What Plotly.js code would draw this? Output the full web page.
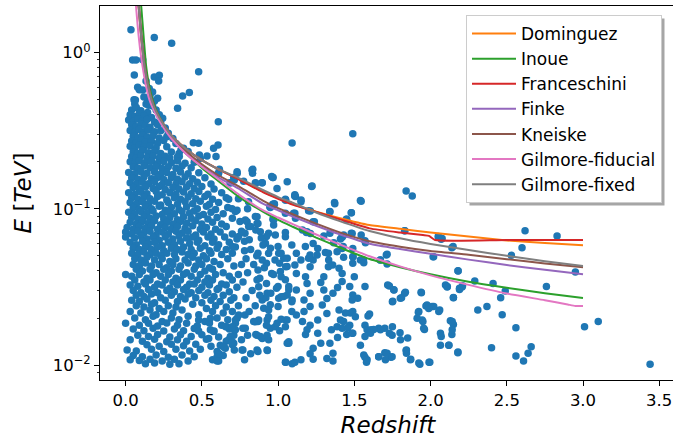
<!DOCTYPE html>
<html><head><meta charset="utf-8">
<script src="https://cdn.plot.ly/plotly-3.0.1.min.js"></script>
<style>html,body{margin:0;padding:0;overflow:hidden;background:#fff;width:673px;height:441px}#chart{width:690px;height:441px}</style>
</head><body><div id="chart"></div>
<script>
// ---- Sources: [redshift, E (TeV)] ----
const sourcesTop = [
[0.035,1.40],[0.188,1.25],[0.302,1.15],[0.046,0.898],[0.068,0.898],[0.112,0.90],[0.479,0.756],[0.057,0.72],[0.188,0.70],[0.221,0.717],
[0.134,0.659],[0.217,0.659],[0.079,0.60],[0.112,0.577],[0.155,0.59],[0.177,0.56],[0.418,0.555],[0.374,0.528],[0.064,0.498],[0.144,0.498],
[0.21,0.51],[0.134,0.47],[0.12,0.52],[0.16,0.53],[0.19,0.49],[0.055,0.50],[0.06,0.47],[0.09,0.58],[0.15,0.46],[0.177,0.456],[0.2,0.43],
[0.144,0.414],[0.341,0.44],[0.221,0.40],[0.243,0.38],[0.608,0.361],[0.577,0.244],[0.606,0.256],[1.092,0.264],[1.49,0.303],
[0.479,0.263],[0.534,0.218],[0.593,0.216],[0.49,0.211],[0.444,0.265],[0.363,0.238],[0.352,0.216],[0.484,0.221]
];
const sourcesLowZ = [
[0.04,0.43],[0.07,0.445],[0.10,0.425],[0.03,0.40],[0.06,0.39],[0.09,0.41],[0.12,0.395],[0.17,0.385],
[0.02,0.37],[0.05,0.362],[0.08,0.378],[0.11,0.366],[0.14,0.374],[0.19,0.36],[0.23,0.356],
[0.04,0.345],[0.07,0.336],[0.10,0.35],[0.13,0.34],[0.16,0.333],[0.21,0.346],[0.26,0.33],
[0.03,0.318],[0.06,0.31],[0.09,0.322],[0.12,0.308],[0.15,0.32],[0.19,0.312],[0.23,0.316],[0.28,0.305],
[0.05,0.292],[0.08,0.285],[0.11,0.296],[0.14,0.288],[0.18,0.294],[0.22,0.284],[0.27,0.29],[0.31,0.282],
[0.04,0.272],[0.07,0.265],[0.10,0.276],[0.13,0.268],[0.17,0.27],[0.21,0.263],[0.25,0.274],[0.33,0.262],
[0.03,0.252],[0.06,0.246],[0.09,0.256],[0.12,0.248],[0.16,0.254],[0.20,0.245],[0.27,0.25],[0.38,0.244],
[0.05,0.232],[0.08,0.227],[0.11,0.236],[0.15,0.229],[0.19,0.234],[0.23,0.226],[0.30,0.231],[0.35,0.226],[0.41,0.233],
[0.04,0.216],[0.07,0.212],[0.10,0.219],[0.14,0.213],[0.18,0.218],[0.22,0.211],[0.26,0.217],[0.29,0.212],[0.34,0.215],
[0.03,0.20],[0.06,0.196],[0.09,0.203],[0.13,0.198],[0.17,0.202],[0.21,0.195],[0.25,0.201],[0.30,0.197],[0.34,0.203],[0.39,0.196],[0.45,0.199],
[0.05,0.186],[0.08,0.182],[0.12,0.188],[0.16,0.183],[0.20,0.187],[0.24,0.181],[0.28,0.186],[0.33,0.182],[0.37,0.188],[0.43,0.183],
[0.02,0.171],[0.06,0.168],[0.10,0.173],[0.14,0.169],[0.19,0.172],[0.23,0.167],[0.27,0.171],[0.31,0.166],[0.36,0.172],[0.41,0.168],[0.48,0.17],[0.61,0.169],
[0.04,0.158],[0.08,0.155],[0.12,0.16],[0.17,0.156],[0.21,0.159],[0.25,0.154],[0.30,0.158],[0.34,0.155],[0.39,0.16],[0.44,0.156],[0.52,0.158],
[0.03,0.147],[0.07,0.144],[0.11,0.148],[0.15,0.145],[0.19,0.149],[0.24,0.143],[0.28,0.147],[0.33,0.144],[0.37,0.149],[0.42,0.145],[0.47,0.148],[0.56,0.144],[0.69,0.147],
[0.05,0.137],[0.09,0.134],[0.13,0.138],[0.18,0.135],[0.22,0.139],[0.26,0.133],[0.31,0.137],[0.35,0.134],[0.40,0.138],[0.45,0.135],[0.50,0.139],[0.58,0.134],
[0.02,0.127],[0.06,0.124],[0.10,0.128],[0.14,0.125],[0.20,0.129],[0.24,0.123],[0.29,0.127],[0.33,0.124],[0.38,0.128],[0.43,0.125],[0.48,0.129],[0.54,0.124],[0.63,0.127],
[0.04,0.118],[0.08,0.115],[0.12,0.119],[0.16,0.116],[0.21,0.12],[0.27,0.114],[0.32,0.118],[0.36,0.115],[0.41,0.119],[0.46,0.116],[0.52,0.12],[0.57,0.115],[0.66,0.118],[0.74,0.116],
[0.03,0.110],[0.07,0.107],[0.11,0.111],[0.15,0.108],[0.19,0.112],[0.23,0.106],[0.28,0.11],[0.34,0.107],[0.39,0.111],[0.44,0.108],[0.49,0.112],[0.55,0.107],[0.61,0.11],
[0.05,0.102],[0.09,0.099],[0.13,0.103],[0.17,0.1],[0.22,0.104],[0.26,0.098],[0.30,0.102],[0.35,0.099],[0.40,0.103],[0.47,0.1],[0.53,0.104],[0.59,0.099],[0.67,0.102],[0.80,0.1],
[0.02,0.095],[0.06,0.093],[0.10,0.096],[0.14,0.094],[0.18,0.097],[0.24,0.092],[0.28,0.095],[0.32,0.093],[0.37,0.096],[0.42,0.094],[0.45,0.097],[0.51,0.092],[0.56,0.095],[0.64,0.093],[0.72,0.096],
[0.04,0.088],[0.08,0.086],[0.12,0.089],[0.16,0.087],[0.20,0.09],[0.25,0.086],[0.29,0.088],[0.34,0.085],[0.38,0.089],[0.43,0.087],[0.48,0.09],[0.54,0.086],[0.60,0.088],[0.70,0.087],
[0.03,0.082],[0.07,0.08],[0.11,0.083],[0.15,0.081],[0.19,0.084],[0.23,0.079],[0.27,0.082],[0.31,0.08],[0.36,0.083],[0.40,0.081],[0.46,0.084],[0.50,0.08],[0.57,0.082],[0.63,0.08],[0.75,0.083],
[0.01,0.076],[0.05,0.074],[0.09,0.077],[0.13,0.075],[0.17,0.078],[0.21,0.074],[0.26,0.076],[0.30,0.074],[0.34,0.077],[0.39,0.075],[0.44,0.078],[0.49,0.074],[0.53,0.076],[0.59,0.074],[0.66,0.077],
[0.00,0.071],[0.04,0.069],[0.08,0.072],[0.12,0.07],[0.16,0.072],[0.20,0.068],[0.24,0.071],[0.28,0.069],[0.33,0.072],[0.37,0.07],[0.41,0.072],[0.46,0.068],[0.51,0.071],[0.56,0.069],[0.62,0.071],[0.70,0.069],
[0.00,0.066],[0.06,0.065],[0.10,0.067],[0.14,0.064],[0.18,0.066],[0.22,0.063],[0.26,0.066],[0.31,0.064],[0.35,0.067],[0.40,0.065],[0.44,0.066],[0.48,0.063],[0.54,0.066],[0.58,0.064],[0.65,0.066],[0.73,0.064],
[0.03,0.061],[0.07,0.059],[0.11,0.062],[0.15,0.06],[0.19,0.061],[0.24,0.058],[0.28,0.061],[0.32,0.059],[0.36,0.062],[0.42,0.06],[0.47,0.061],[0.52,0.058],[0.57,0.061],[0.61,0.059],[0.68,0.061],
[0.05,0.056],[0.09,0.055],[0.13,0.057],[0.17,0.055],[0.21,0.057],[0.25,0.054],[0.30,0.056],[0.34,0.055],[0.38,0.057],[0.43,0.055],[0.49,0.056],[0.55,0.054],[0.60,0.056],[0.66,0.055],[0.72,0.057],
[0.04,0.052],[0.08,0.051],[0.12,0.053],[0.16,0.051],[0.20,0.052],[0.23,0.05],[0.27,0.052],[0.32,0.051],[0.37,0.053],[0.41,0.051],[0.45,0.052],[0.51,0.05],[0.56,0.052],[0.63,0.051],[0.70,0.052],
[0.06,0.048],[0.10,0.047],[0.14,0.049],[0.19,0.047],[0.24,0.048],[0.29,0.046],[0.33,0.048],[0.39,0.047],[0.44,0.049],[0.48,0.047],[0.53,0.048],[0.58,0.046],[0.67,0.048],
[0.05,0.044],[0.09,0.043],[0.13,0.045],[0.17,0.043],[0.22,0.044],[0.27,0.042],[0.31,0.044],[0.36,0.043],[0.41,0.045],[0.46,0.043],[0.50,0.044],[0.55,0.042],[0.62,0.044],[0.71,0.043],
[0.07,0.041],[0.11,0.04],[0.16,0.041],[0.20,0.039],[0.25,0.041],[0.30,0.04],[0.35,0.041],[0.40,0.039],[0.45,0.041],[0.52,0.04],[0.57,0.041],[0.64,0.039],
[0.00,0.038],[0.04,0.037],[0.09,0.038],[0.14,0.036],[0.18,0.038],[0.23,0.037],[0.28,0.038],[0.33,0.036],[0.38,0.038],[0.43,0.037],[0.49,0.038],[0.54,0.036],[0.59,0.038],[0.68,0.037],[0.74,0.038],
[0.06,0.035],[0.12,0.034],[0.16,0.035],[0.21,0.033],[0.26,0.035],[0.31,0.034],[0.36,0.035],[0.42,0.033],[0.47,0.035],[0.52,0.034],[0.57,0.035],[0.63,0.033],[0.70,0.035],
[0.03,0.0325],[0.08,0.032],[0.13,0.033],[0.19,0.0315],[0.24,0.0325],[0.29,0.031],[0.34,0.0325],[0.40,0.0315],[0.45,0.033],[0.50,0.0315],[0.55,0.0325],[0.61,0.031],[0.66,0.0325],[0.73,0.0315],
[0.05,0.030],[0.10,0.029],[0.15,0.0305],[0.21,0.029],[0.27,0.030],[0.32,0.0295],[0.38,0.0305],[0.43,0.029],[0.48,0.030],[0.54,0.029],[0.60,0.0305],[0.68,0.0295],
[0.07,0.028],[0.12,0.0275],[0.17,0.0285],[0.23,0.027],[0.30,0.028],[0.36,0.0275],[0.41,0.0285],[0.46,0.027],[0.52,0.028],[0.58,0.0275],[0.64,0.028],[0.71,0.027],
[0.04,0.026],[0.09,0.0255],[0.14,0.0265],[0.19,0.025],[0.26,0.026],[0.34,0.0255],[0.39,0.0265],[0.50,0.025],[0.56,0.026],[0.62,0.0255],[0.69,0.026],
[0.07,0.024],[0.12,0.0235],[0.17,0.0245],[0.22,0.023],[0.28,0.024],[0.33,0.0235],[0.44,0.0245],[0.53,0.023],[0.59,0.024],[0.66,0.0235],[0.74,0.024],
[0.03,0.022],[0.10,0.0215],[0.16,0.0225],[0.20,0.021],[0.25,0.022],[0.31,0.0215],[0.37,0.0225],[0.48,0.021],[0.57,0.022],[0.64,0.0215],[0.70,0.022],
[0.06,0.020],[0.13,0.0195],[0.18,0.0205],[0.24,0.019],[0.30,0.020],[0.35,0.0195],[0.41,0.0205],[0.52,0.019],[0.60,0.020],[0.67,0.0195],
[0.00,0.0185],[0.09,0.018],[0.15,0.0185],[0.21,0.0178],[0.27,0.0186],[0.34,0.018],[0.40,0.0185],[0.47,0.0178],[0.55,0.0186],[0.63,0.018],[0.72,0.0185],
[0.05,0.017],[0.12,0.0166],[0.18,0.0172],[0.25,0.0165],[0.32,0.017],[0.38,0.0166],[0.45,0.0171],[0.58,0.0165],[0.68,0.017],
[0.08,0.0155],[0.15,0.0152],[0.21,0.0157],[0.29,0.0151],[0.36,0.0156],[0.43,0.0152],[0.50,0.0156],[0.61,0.0151],[0.71,0.0155],
[0.03,0.0145],[0.11,0.0142],[0.19,0.0146],[0.27,0.0141],[0.34,0.0145],[0.40,0.0142],[0.53,0.0146],[0.66,0.0142],
[0.14,0.0135],[0.22,0.0132],[0.30,0.0136],[0.38,0.0133],[0.46,0.0136],[0.56,0.0132],[0.70,0.0135],
[0.01,0.0125],[0.07,0.0123],[0.17,0.0126],[0.25,0.0122],[0.33,0.0126],[0.42,0.0123],[0.49,0.0126],[0.60,0.0122],
[0.05,0.0115],[0.11,0.0113],[0.20,0.0116],[0.28,0.0112],[0.37,0.0116],[0.45,0.0113],[0.64,0.0115],
[0.03,0.0108],[0.09,0.0107],[0.16,0.0109],[0.24,0.0106],[0.32,0.0109],[0.41,0.0106],[0.57,0.0108],
[0.13,0.0102],[0.19,0.0103],[0.29,0.0101],[0.35,0.0102]
];
const sourcesMidZ = [
[0.479,0.0194],[0.556,0.0199],[0.479,0.0165],[0.556,0.0168],[0.577,0.0164],[0.545,0.0148],[0.665,0.0176],[0.698,0.0172],[0.72,0.0168],[0.687,0.0152],
[0.676,0.0145],[0.709,0.0138],[0.654,0.0128],[0.621,0.0134],[0.6,0.0113],[0.61,0.0106],[0.764,0.0125],[0.785,0.0172],[0.731,0.0199],[0.742,0.0209],
[0.862,0.0155],[0.884,0.0152],[0.928,0.0155],[0.851,0.0189],[0.873,0.0194],[0.928,0.0194],[0.938,0.0204],[0.949,0.0172],[0.982,0.0176],[0.993,0.0185],
[1.059,0.0194],[1.048,0.0176],[1.07,0.0138],[0.862,0.0125],[0.928,0.0125],[1.048,0.0104],[1.092,0.0102],[0.917,0.0602],[1.004,0.052],[1.037,0.0482],
[1.059,0.0427],[1.015,0.0397],[1.048,0.0351],[1.07,0.0303],[1.037,0.0275],[1.092,0.0261],[1.004,0.0268],[0.949,0.0243],[0.906,0.0231],[0.928,0.0288],
[0.873,0.0317],[0.862,0.0351],
[0.615,0.179],[0.731,0.173],[0.829,0.177],[0.833,0.169],[0.709,0.159],[0.774,0.15],[0.851,0.147],[0.895,0.147],[0.965,0.159],[0.993,0.135],
[1.048,0.114],[1.114,0.12],[0.965,0.107],[0.949,0.102],[1.048,0.0937],[1.114,0.0872],[0.676,0.115],[0.698,0.1],[0.731,0.098],[0.785,0.0849],
[0.851,0.0892],[0.862,0.0807],[0.807,0.0772],[0.884,0.0714],[0.938,0.0697],[0.971,0.0788],[0.982,0.0681],[1.048,0.0663],
[0.958,0.161],[0.946,0.103],[0.975,0.108],[0.966,0.0857],[0.896,0.147],[0.854,0.146],[0.834,0.179],[0.862,0.0891],[0.868,0.0807],[0.854,0.0731],
[0.924,0.0664],[0.901,0.0587],[0.938,0.0519],[0.868,0.0519],[0.924,0.0448],[0.896,0.047],[0.868,0.0406],[0.958,0.0386],[0.924,0.0333],[0.952,0.0288],
[0.896,0.0261],[0.938,0.0225],[0.868,0.019],[0.924,0.018],[0.854,0.0157],[0.896,0.0148],[0.938,0.0145],[0.930,0.0124],[0.868,0.0122],[0.783,0.0209],
[0.769,0.0172],[0.769,0.0125],[0.699,0.0141],[0.713,0.0125],[0.642,0.0131],[0.600,0.0106],[0.614,0.0118],[0.656,0.0176],[0.699,0.0176],[0.721,0.0194],
[0.608,0.169],[0.732,0.169],[0.713,0.153],[0.685,0.147],[0.806,0.111],[0.797,0.0828],[0.783,0.0697],[0.811,0.0633],[0.741,0.0664],[0.699,0.0573],
[0.78,0.062],[0.82,0.055],[0.79,0.048],[0.84,0.044],[0.80,0.039],[0.77,0.034],[0.83,0.03],[0.79,0.027],[0.85,0.024],[0.81,0.022],
[0.88,0.036],[0.91,0.042],[0.86,0.05],[0.95,0.056],[0.89,0.065],[0.76,0.072],[0.82,0.077],[0.98,0.047],[0.97,0.038],[0.92,0.027],
[0.99,0.031],[0.76,0.044],[0.78,0.054],[0.88,0.028],[0.84,0.019],[0.8,0.0155],[0.76,0.0145],[0.82,0.0118],[0.78,0.0108]
];
const sourcesHighZ = [
[3.44,0.0101],[3.10,0.0190],[3.01,0.0176],[2.95,0.0394],[2.83,0.067],[2.76,0.0318],[2.62,0.0725],[2.60,0.0564],[2.53,0.0504],[2.66,0.0131],
[2.64,0.0119],[2.61,0.0106],[2.56,0.0114],[2.56,0.0173],[2.47,0.021],[2.49,0.0298],[2.46,0.027],[2.41,0.0333],[2.40,0.0129],[2.37,0.0237],
[2.31,0.0225],[2.29,0.0345],[2.18,0.0402],[2.14,0.0564],[2.07,0.0638],[2.05,0.0664],[2.02,0.0494],[1.88,0.121],[1.84,0.130],[1.83,0.0725],
[2.21,0.0322],[2.19,0.0305],[2.11,0.0318],[2.15,0.027],[2.13,0.0192],[2.15,0.0182],[2.14,0.0157],[2.07,0.0152],[2.12,0.0134],[2.18,0.0121],
[2.06,0.0225],[2.01,0.0237],[1.97,0.0239],[1.92,0.0218],[1.95,0.019],[1.96,0.0169],[1.94,0.029],[1.99,0.0104],[1.93,0.0101],[1.87,0.0109],
[1.84,0.0124],[1.85,0.0149],[1.83,0.0288],[1.81,0.027],[1.76,0.0302],[1.73,0.0321],[1.71,0.0506],[1.67,0.047],[1.75,0.0254],[1.80,0.0161],
[1.75,0.0176],[1.73,0.016],[1.74,0.0112],[1.70,0.012],[1.66,0.0113],[1.70,0.0172],[1.66,0.0172],[1.61,0.0168],[1.59,0.0206],[1.60,0.0212],
[1.58,0.0104],[1.57,0.0112],[1.57,0.0152],[1.57,0.018],[1.57,0.0318],[1.56,0.047],[1.57,0.0625],[1.54,0.113],[1.48,0.0945],[1.48,0.0697],
[1.49,0.0558],[1.49,0.0494],[1.49,0.0448],[1.50,0.0368],[1.47,0.0318],[1.49,0.0281],[1.49,0.022],[1.47,0.018],[1.49,0.016],[1.45,0.0857],
[1.43,0.068],[1.42,0.0657],[1.42,0.0558],[1.43,0.0489],[1.40,0.0416],[1.42,0.0386],[1.42,0.0342],[1.39,0.0314],[1.36,0.0288],[1.40,0.0225],
[1.43,0.019],[1.42,0.0172],[1.45,0.0157],[1.39,0.015],[1.35,0.0168],[1.34,0.0138],[1.36,0.0119],[1.32,0.011],[1.36,0.0106],[1.37,0.110],
[1.34,0.0959],[1.34,0.0697],[1.33,0.0519],[1.33,0.0426],[1.30,0.0368],[1.28,0.0337],[1.30,0.0302],[1.32,0.0267],[1.29,0.0242],[1.32,0.0214],
[1.26,0.0194],[1.26,0.016],[1.28,0.0138],[1.23,0.0128],[1.21,0.0118],[1.23,0.0109],[1.22,0.139],[1.23,0.0828],[1.20,0.0973],[1.19,0.0714],
[1.23,0.0601],[1.26,0.0558],[1.21,0.0506],[1.23,0.047],[1.21,0.0426],[1.15,0.047],[1.18,0.0368],[1.19,0.0333],[1.21,0.0288],[1.17,0.0261],
[1.21,0.0237],[1.17,0.022],[1.16,0.019],[1.21,0.018],[1.19,0.0168],[1.18,0.0157],[1.15,0.0108],[1.11,0.0104],[1.05,0.0104],[1.11,0.123],
[1.06,0.149],[1.05,0.114],[1.11,0.0936],[1.15,0.111],[1.16,0.0731],[1.09,0.0587],[1.12,0.0519],[1.06,0.0482],[1.05,0.0426],[1.11,0.0437],
[1.12,0.0386],[1.07,0.0318],[1.06,0.0281],[1.12,0.0302],[1.09,0.0254],[1.09,0.022],[1.05,0.0194],[1.12,0.0209],[1.06,0.0138],[1.07,0.0141],
[1.01,0.0166],[1.02,0.0196],[1.00,0.0237],[1.02,0.0274],[1.00,0.0318],[1.02,0.0368],[1.01,0.0448],[1.02,0.0519],[1.00,0.0573],
[0.967,0.159],[1.223,0.14],[1.109,0.121],[1.151,0.114],[1.048,0.115],[0.976,0.107],[1.372,0.108],[1.545,0.112],[1.212,0.097],[1.339,0.096],
[1.481,0.0945],[1.102,0.0937],[0.971,0.0849],[1.238,0.0828],[1.448,0.0857],[1.831,0.0725],[1.186,0.0706],[1.212,0.0695],[1.3,0.067],[1.42,0.0663],
[1.486,0.0696],[1.545,0.068],[1.048,0.0706],[1.409,0.064],[1.365,0.0607],[1.573,0.0607],[2.054,0.0663],[2.076,0.0646],[2.148,0.0573],[2.017,0.0494],
[1.715,0.0512],[1.715,0.0443],[1.671,0.0471],[1.179,0.0573],[1.2,0.0482],[1.256,0.0506],[1.31,0.0526],[1.358,0.0437],[1.332,0.047],[1.387,0.0532],
[1.427,0.0573],[1.492,0.0494],[1.54,0.047],[1.562,0.0451],[2.181,0.04],[2.098,0.0325],[2.109,0.0316],[2.19,0.031],[2.207,0.0316],[2.15,0.0271],
[1.719,0.0325],[1.759,0.0303],[1.835,0.0292],[1.802,0.0268],[1.752,0.0256],[1.938,0.0292],[1.977,0.0242],[2.021,0.0237],[2.054,0.022],[1.988,0.023],
[1.923,0.022],[1.945,0.0194],[1.955,0.0172],[1.912,0.0199],[2.065,0.016],[2.142,0.019],[2.142,0.0168],[2.065,0.0134],[2.12,0.0134],[2.179,0.012],
[1.842,0.0125],[1.842,0.0119],[1.868,0.0108],[1.923,0.0103],[1.995,0.0104],[1.803,0.0145],[1.748,0.0155],[1.671,0.0168],[1.627,0.0169],[1.584,0.0168],
[1.606,0.016],[1.54,0.0134],[1.562,0.0116],[1.584,0.0108],[1.66,0.0113],[1.704,0.0108],[1.715,0.0119],[1.748,0.0113],[1.522,0.0268],[1.486,0.0261],
[1.474,0.0215],[1.507,0.0204],[1.442,0.0215],[1.409,0.0194],[1.457,0.0173],[1.486,0.016],[1.387,0.0176]
];

// ---- EBL horizon curves (redshift -> E in TeV) ----
const zDominguez = [0.080,0.085,0.09,0.1,0.11,0.125,0.15,0.17,0.2,0.25,0.3,0.4,0.5,0.6,0.75,0.9,1.0,1.1,1.25,1.4,1.6,1.8,2.0,2.25,2.5,2.75,3.0];
const eDominguez = [2.3,2.0,1.75,1.34,1.06,0.80,0.60,0.50,0.42,0.345,0.295,0.24,0.205,0.181,0.154,0.129,0.117,0.107,0.096,0.0875,0.0788,0.0745,0.0705,0.0665,0.0628,0.0604,0.0584];
const zInoue = [0.095,0.102,0.11,0.12,0.134,0.15,0.17,0.2,0.25,0.3,0.4,0.5,0.6,0.75,0.9,1.0,1.1,1.25,1.4,1.6,1.8,2.0,2.25,2.5,2.75,3.0];
const eInoue = [2.3,2.0,1.6,1.2,0.83,0.65,0.53,0.43,0.345,0.29,0.225,0.183,0.153,0.118,0.096,0.085,0.0765,0.0655,0.0568,0.0477,0.0423,0.0381,0.0341,0.0312,0.0288,0.0269];
const zFranceschini = [0.080,0.085,0.09,0.1,0.11,0.125,0.15,0.17,0.2,0.25,0.3,0.4,0.5,0.6,0.75,0.9,1.0,1.1,1.25,1.4,1.6,1.8,1.95,1.99,2.03,2.5,3.0];
const eFranceschini = [2.3,2.0,1.75,1.34,1.06,0.80,0.60,0.50,0.42,0.345,0.295,0.24,0.205,0.181,0.153,0.128,0.116,0.106,0.0955,0.086,0.075,0.0705,0.068,0.0672,0.0632,0.0632,0.0632];
const zFinke = [0.081,0.086,0.1,0.11,0.125,0.15,0.17,0.2,0.25,0.3,0.4,0.5,0.6,0.75,0.9,1.0,1.1,1.25,1.4,1.6,1.8,2.0,2.25,2.5,2.75,3.0];
const eFinke = [2.3,2.0,1.38,1.09,0.80,0.59,0.495,0.41,0.333,0.281,0.224,0.187,0.161,0.133,0.108,0.098,0.089,0.078,0.069,0.0598,0.0553,0.0515,0.0473,0.0437,0.0407,0.0381];
const zKneiske = [0.083,0.088,0.1,0.11,0.125,0.15,0.17,0.2,0.25,0.3,0.4,0.5,0.6,0.75,0.9,1.0,1.1,1.25,1.4,1.6,1.8,2.0,2.25,2.5,2.75,3.0];
const eKneiske = [2.3,2.0,1.45,1.13,0.83,0.61,0.51,0.42,0.34,0.288,0.232,0.193,0.166,0.138,0.113,0.101,0.092,0.0805,0.071,0.062,0.0572,0.0537,0.0508,0.0476,0.0447,0.0422];
const zGilmoreFiducial = [0.062,0.068,0.08,0.095,0.112,0.13,0.156,0.2,0.25,0.3,0.4,0.5,0.6,0.75,0.9,1.0,1.1,1.25,1.4,1.6,1.8,2.0,2.25,2.5,2.75,2.9,2.95,3.0];
const eGilmoreFiducial = [2.3,2.0,1.45,1.05,0.81,0.64,0.50,0.40,0.33,0.283,0.224,0.186,0.157,0.122,0.098,0.088,0.0795,0.0685,0.0595,0.0497,0.0428,0.0375,0.0326,0.0287,0.026,0.0244,0.0239,0.0239];
const zGilmoreFixed = [0.080,0.085,0.09,0.1,0.11,0.125,0.15,0.17,0.2,0.25,0.3,0.4,0.5,0.6,0.75,0.9,1.0,1.1,1.25,1.4,1.6,1.8,2.0,2.25,2.5,2.75,3.0];
const eGilmoreFixed = [2.3,2.0,1.75,1.34,1.06,0.80,0.60,0.50,0.42,0.345,0.295,0.24,0.205,0.181,0.156,0.132,0.119,0.109,0.0947,0.0837,0.0721,0.0648,0.0596,0.0546,0.0500,0.0462,0.0431];

const modelNames = ['Dominguez','Inoue','Franceschini','Finke','Kneiske','Gilmore-fiducial','Gilmore-fixed'];
const modelColors = ['#ff7f0e','#2ca02c','#d62728','#9467bd','#8c564b','#e377c2','#7f7f7f'];
const modelZ = [zDominguez,zInoue,zFranceschini,zFinke,zKneiske,zGilmoreFiducial,zGilmoreFixed];
const modelE = [eDominguez,eInoue,eFranceschini,eFinke,eKneiske,eGilmoreFiducial,eGilmoreFixed];

const xTicks = [0,0.5,1,1.5,2,2.5,3,3.5];
const xTickText = ['0.0','0.5','1.0','1.5','2.0','2.5','3.0','3.5'];
const yTicks = [0.01,0.1,1];
const yTickText = ['10<sup>−2</sup>','10<sup>−1</sup>','10<sup>0</sup>'];
const yMinor = [0.009,0.02,0.03,0.04,0.05,0.06,0.07,0.08,0.09,0.2,0.3,0.4,0.5,0.6,0.7,0.8,0.9,2];

const allSources = sourcesTop.concat(sourcesLowZ, sourcesMidZ, sourcesHighZ);
const traces = [{
  x: allSources.map(p => p[0]), y: allSources.map(p => p[1]),
  type: 'scatter', mode: 'markers', showlegend: false, hoverinfo: 'skip',
  marker: {color: '#1f77b4', size: 7.5, line: {width: 0}}
}];
modelNames.forEach((n, i) => traces.push({
  x: modelZ[i], y: modelE[i], type: 'scatter', mode: 'lines', name: n,
  line: {color: modelColors[i], width: 2, shape: 'spline', smoothing: 0.5}
}));

const font = 'DejaVu Sans, Verdana, sans-serif';
const layout = {
  width: 690, height: 441,
  margin: {l: 100, r: 14, t: 6, b: 61},
  paper_bgcolor: '#fff', plot_bgcolor: '#fff',
  showlegend: true,
  legend: {x: 0.9757, y: 0.976, xanchor: 'right', yanchor: 'top', bgcolor: '#ffffff', itemwidth: 44,
    bordercolor: '#cccccc', borderwidth: 1, font: {family: font, size: 17, color: '#000'}, tracegroupgap: 0},
  xaxis: {range: [-0.168, 3.61], tickmode: 'array', tickvals: xTicks, ticktext: xTickText,
    ticks: 'outside', ticklen: 5, tickwidth: 1, tickcolor: '#000',
    showline: true, linecolor: '#000', linewidth: 1, mirror: true, showgrid: false, zeroline: false,
    tickfont: {family: font, size: 16.5, color: '#000'},
    title: {text: '<i>Redshift</i>', font: {family: font, size: 23, color: '#000'}, standoff: 8}},
  yaxis: {type: 'log', range: [-2.096, 0.299], tickmode: 'array', tickvals: yTicks, ticktext: yTickText,
    ticks: 'outside', ticklen: 5, tickwidth: 1, tickcolor: '#000',
    minor: {tickmode: 'array', tickvals: yMinor, ticks: 'outside', ticklen: 2.5, tickwidth: 0.8, tickcolor: '#000', showgrid: false},
    showline: true, linecolor: '#000', linewidth: 1, mirror: true, showgrid: false, zeroline: false,
    tickfont: {family: font, size: 16.5, color: '#000'},
    title: {text: '<i>E</i> [<i>TeV</i>]', font: {family: font, size: 23, color: '#000'}, standoff: 14}}
};

Plotly.newPlot('chart', traces, layout, {staticPlot: true, displayModeBar: false}).then(gd => {
  const bg = gd.querySelector('.legend .bg');
  if (!bg) return;
  const r = bg.getBoundingClientRect();
  const g = gd.getBoundingClientRect();
  const s = gd._fullLayout._size;
  const px = v => (v - g.left - s.l) / s.w;
  const py = v => (s.t + s.h - (v - g.top)) / s.h;
  return Plotly.relayout(gd, {shapes: [{type: 'rect', xref: 'paper', yref: 'paper', layer: 'above',
    x0: px(r.left + 3), x1: px(r.right + 3), y0: py(r.bottom + 3), y1: py(r.top + 3),
    fillcolor: '#a6a6a6', line: {width: 0}}]});
});
</script></body></html>
